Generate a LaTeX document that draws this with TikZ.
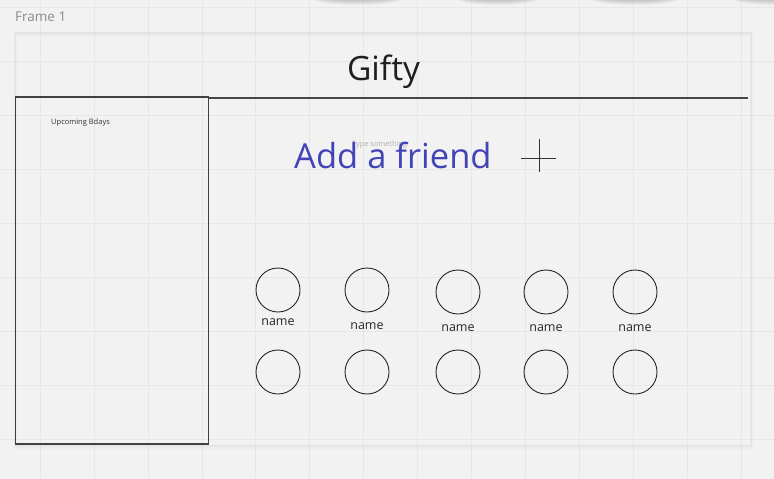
\documentclass[tikz,border=0pt]{standalone}
\usepackage{fontspec}
\setmainfont{Open Sans}
\usetikzlibrary{positioning}
\definecolor{canvas}{HTML}{F2F2F2}
\definecolor{gridline}{HTML}{E7E7E7}
\definecolor{friendblue}{HTML}{4343B8}
\tikzset{
	avatar/.style={draw=black!85,line width=0.9pt,circle,minimum size=44pt,inner sep=0pt},
	handle/.style={font=\fontsize{12.5}{14}\selectfont,text=black!85,inner sep=0pt,anchor=base},
	panel/.style={draw=black!72,line width=1.2pt},
	crossbar/.style={draw=black!80,line width=1pt}
}

\begin{document}
\begin{tikzpicture}[x=1pt,y=-1pt]
	\fill[canvas] (0,0) rectangle (774,479);
	\useasboundingbox (0,0) rectangle (774,479);
	\foreach \gx in {40.2,94.1,...,760} \draw[gridline,line width=0.8pt] (\gx,0) -- (\gx,479);
	\foreach \gy in {7,61,...,479} \draw[gridline,line width=0.8pt] (0,\gy) -- (774,\gy);

	\begin{scope}
		\clip (0,0) rectangle (774,479);
		\foreach \bx/\bw in {358/42,498/38,635/42,775/40}
			\foreach \k in {0,...,5}
				\fill[black,opacity=0.035] (\bx,-3) ellipse ({\bw-2+\k*1.5} and {3+\k});
	\end{scope}

	\node[anchor=base west,inner sep=0pt,text=black!45,font=\fontsize{13.5}{15}\selectfont] (framename) at (15,21) {Frame 1};
	\foreach \s in {1,...,3}
		\draw[black,opacity=0.02,line width=\s pt] (15,33+\s*0.5) rectangle (751,445+\s*0.7);
	\draw[black!11,line width=0.7pt] (15,32) rectangle (751,445);

	\node[anchor=base,inner sep=0pt,text=black!88,font=\fontsize{33.5}{36}\selectfont] (title) at (383.5,80) {Gifty};
	\draw[panel] (209,98) -- (748,98);
	\draw[draw=black!75,line width=1.4pt] (15.5,97) rectangle (208.5,444);
	\node[anchor=base west,inner sep=0pt,text=black!80,font=\fontsize{7.5}{9}\selectfont] (bdays) at (51,124.5) {Upcoming Bdays};

	\node[anchor=base west,inner sep=0pt,text=black!30,font=\fontsize{7.4}{9}\selectfont] (hint) at (352,146) {Type something};
	\node[anchor=base west,inner sep=0pt,text=friendblue,font=\fontsize{34.5}{38}\selectfont] (addfriend) at (294,168) {Add a friend};
	\draw[crossbar] (521,158) -- (556,158);
	\draw[crossbar] (539,139) -- (539,172);

	\node[avatar] (f1) at (278,290) {};
	\node[avatar] (f2) at (367,290) {};
	\node[avatar] (f3) at (458,292) {};
	\node[avatar] (f4) at (546,292) {};
	\node[avatar] (f5) at (635,292) {};

	\node[handle] (n1) at (278,325.5) {name};
	\node[handle] (n2) at (367,329.5) {name};
	\node[handle] (n3) at (458,331.5) {name};
	\node[handle] (n4) at (546,331.5) {name};
	\node[handle] (n5) at (635,331.5) {name};

	\node[avatar] (g1) at (278,372) {};
	\node[avatar] (g2) at (367,372) {};
	\node[avatar] (g3) at (458,372) {};
	\node[avatar] (g4) at (546,372) {};
	\node[avatar] (g5) at (635,372) {};
\end{tikzpicture}
\end{document}
